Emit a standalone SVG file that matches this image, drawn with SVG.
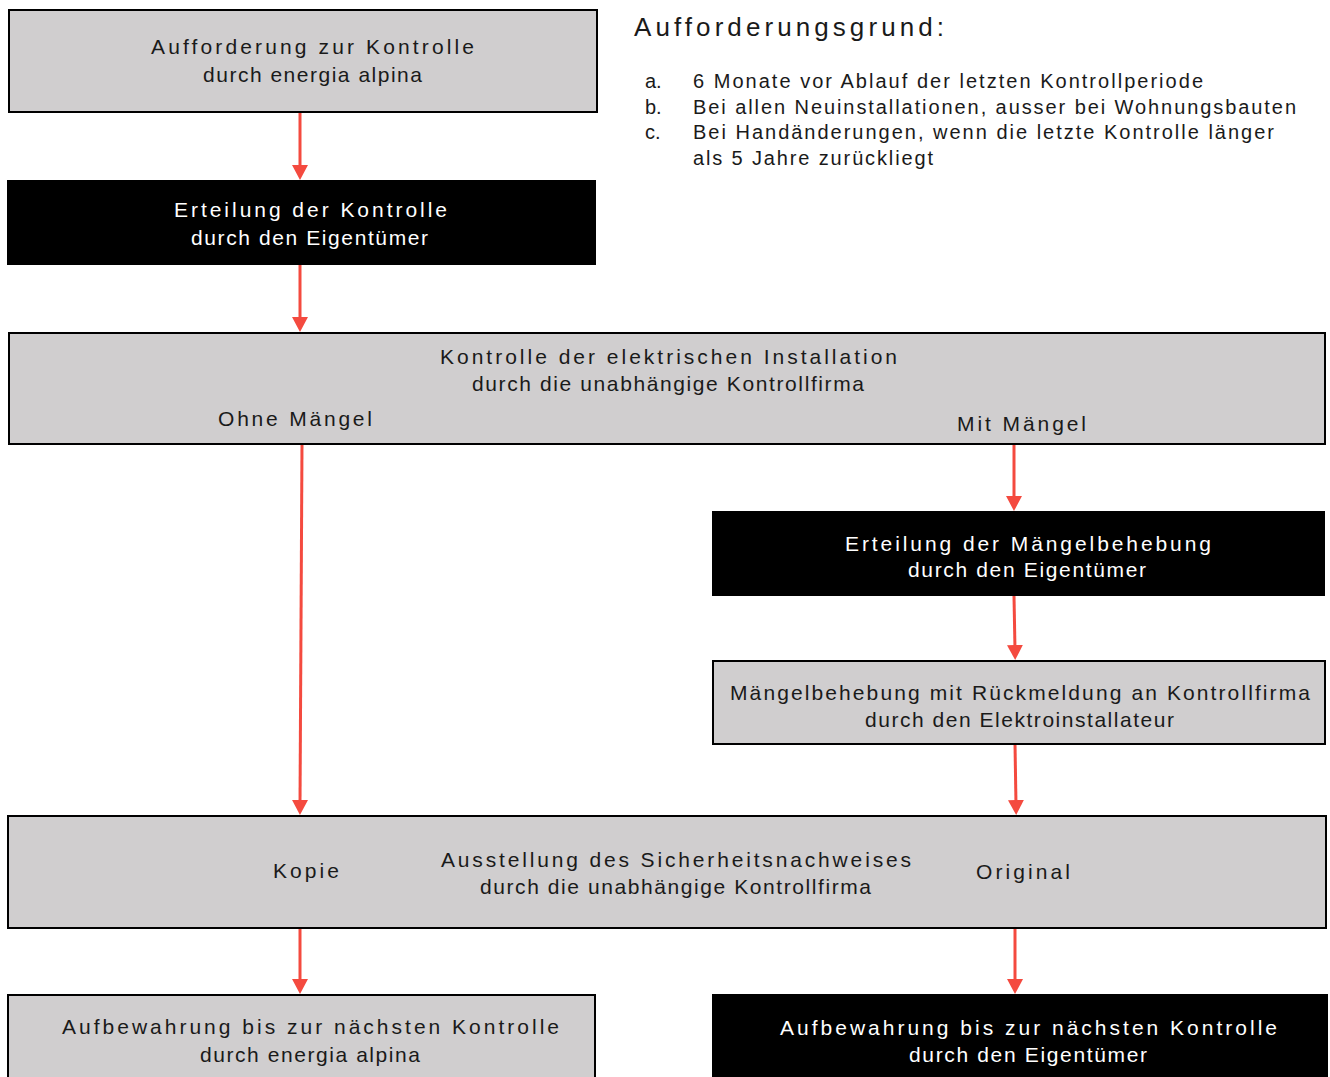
<svg xmlns="http://www.w3.org/2000/svg" width="1330" height="1077" viewBox="0 0 1330 1077">
<style>
.g{fill:#d0cecf;stroke:#000;stroke-width:2}
.b{fill:#000;stroke:#000;stroke-width:1}
text{font-family:"Liberation Sans",Arial,sans-serif;font-size:21px}
.dk{fill:#1a1a1a}
.wt{fill:#ffffff}
.li{font-size:20px}
.hd{font-size:26px}
.c{fill:none;stroke:#f44a3f;stroke-width:3}
</style>
<defs>
<marker id="ah" markerUnits="userSpaceOnUse" markerWidth="15" markerHeight="16" viewBox="0 0 15 16" refX="5" refY="8" orient="auto">
<path d="M0,0 L15,8 L0,16 z" fill="#f44a3f"/>
</marker>
</defs>
<g id="connectors">
<line class="c" x1="300" y1="112" x2="300" y2="170" marker-end="url(#ah)"/>
<line class="c" x1="300" y1="265" x2="300" y2="322" marker-end="url(#ah)"/>
<line class="c" x1="302" y1="444" x2="300" y2="805" marker-end="url(#ah)"/>
<line class="c" x1="1014" y1="444" x2="1014" y2="501" marker-end="url(#ah)"/>
<line class="c" x1="1014" y1="596" x2="1015" y2="650" marker-end="url(#ah)"/>
<line class="c" x1="1015" y1="744" x2="1016" y2="805" marker-end="url(#ah)"/>
<line class="c" x1="300" y1="928" x2="300" y2="984" marker-end="url(#ah)"/>
<line class="c" x1="1015" y1="928" x2="1015" y2="984" marker-end="url(#ah)"/>
</g>
<g id="n1">
<rect class="g" x="9" y="10" width="588" height="102"/>
<text class="dk" x="151" y="54" textLength="323" lengthAdjust="spacing">Aufforderung zur Kontrolle</text>
<text class="dk" x="203" y="82" textLength="219" lengthAdjust="spacing">durch energia alpina</text>
</g>
<g id="reasons">
<text class="dk hd" x="634" y="36" textLength="310" lengthAdjust="spacing">Aufforderungsgrund:</text>
<text class="dk li" x="645" y="88">a.</text>
<text class="dk li" x="693" y="88" textLength="510" lengthAdjust="spacing">6 Monate vor Ablauf der letzten Kontrollperiode</text>
<text class="dk li" x="645" y="114">b.</text>
<text class="dk li" x="693" y="114" textLength="603" lengthAdjust="spacing">Bei allen Neuinstallationen, ausser bei Wohnungsbauten</text>
<text class="dk li" x="645" y="139">c.</text>
<text class="dk li" x="693" y="139" textLength="581" lengthAdjust="spacing">Bei Handänderungen, wenn die letzte Kontrolle länger</text>
<text class="dk li" x="693" y="165" textLength="240" lengthAdjust="spacing">als 5 Jahre zurückliegt</text>
</g>
<g id="n2">
<rect class="b" x="7.5" y="180.5" width="588" height="84"/>
<text class="wt" x="174" y="217" textLength="273" lengthAdjust="spacing">Erteilung der Kontrolle</text>
<text class="wt" x="191" y="245" textLength="237" lengthAdjust="spacing">durch den Eigentümer</text>
</g>
<g id="n3">
<rect class="g" x="9" y="333" width="1316" height="111"/>
<text class="dk" x="440" y="364" textLength="457" lengthAdjust="spacing">Kontrolle der elektrischen Installation</text>
<text class="dk" x="472" y="391" textLength="392" lengthAdjust="spacing">durch die unabhängige Kontrollfirma</text>
<text class="dk" x="218" y="426" textLength="154" lengthAdjust="spacing">Ohne Mängel</text>
<text class="dk" x="957" y="431" textLength="129" lengthAdjust="spacing">Mit Mängel</text>
</g>
<g id="n4">
<rect class="b" x="712.5" y="511.5" width="612" height="84"/>
<text class="wt" x="845" y="551" textLength="366" lengthAdjust="spacing">Erteilung der Mängelbehebung</text>
<text class="wt" x="908" y="577" textLength="238" lengthAdjust="spacing">durch den Eigentümer</text>
</g>
<g id="n5">
<rect class="g" x="713" y="661" width="612" height="83"/>
<text class="dk" x="730" y="700" textLength="580" lengthAdjust="spacing">Mängelbehebung mit Rückmeldung an Kontrollfirma</text>
<text class="dk" x="865" y="727" textLength="309" lengthAdjust="spacing">durch den Elektroinstallateur</text>
</g>
<g id="n6">
<rect class="g" x="8" y="816" width="1318" height="112"/>
<text class="dk" x="273" y="878" textLength="66" lengthAdjust="spacing">Kopie</text>
<text class="dk" x="441" y="867" textLength="470" lengthAdjust="spacing">Ausstellung des Sicherheitsnachweises</text>
<text class="dk" x="480" y="894" textLength="391" lengthAdjust="spacing">durch die unabhängige Kontrollfirma</text>
<text class="dk" x="976" y="879" textLength="94" lengthAdjust="spacing">Original</text>
</g>
<g id="n7">
<rect class="g" x="8" y="995" width="587" height="90"/>
<text class="dk" x="62" y="1034" textLength="497" lengthAdjust="spacing">Aufbewahrung bis zur nächsten Kontrolle</text>
<text class="dk" x="200" y="1062" textLength="220" lengthAdjust="spacing">durch energia alpina</text>
</g>
<g id="n8">
<rect class="b" x="712.5" y="994.5" width="615" height="90"/>
<text class="wt" x="780" y="1035" textLength="497" lengthAdjust="spacing">Aufbewahrung bis zur nächsten Kontrolle</text>
<text class="wt" x="909" y="1062" textLength="238" lengthAdjust="spacing">durch den Eigentümer</text>
</g>
</svg>
